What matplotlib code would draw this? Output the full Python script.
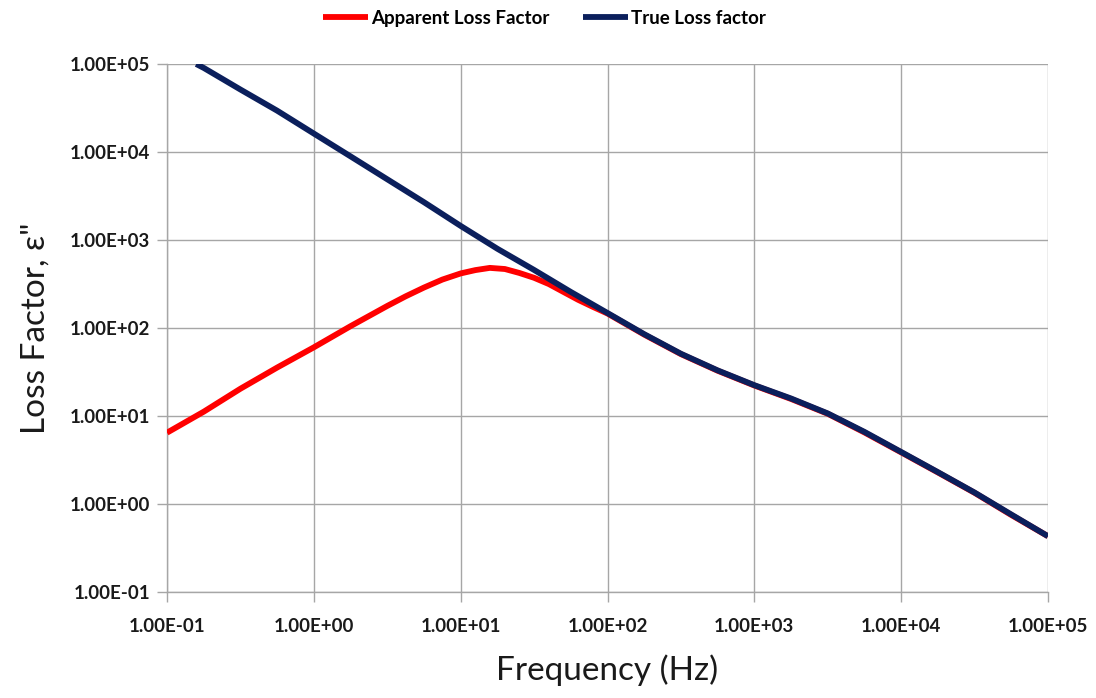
import matplotlib.pyplot as plt
from matplotlib.ticker import FixedLocator, FuncFormatter, NullLocator

# Values (log-log)
freq_true = [0.158, 0.178, 0.316, 0.562, 1, 1.78, 3.16, 5.62, 10, 17.8, 31.6, 56.2,
             100, 178, 316, 562, 1000, 1780, 3160, 5620, 10000, 17800, 31600, 56200, 100000]
loss_true = [1.0e5, 90200, 51300, 29500, 16200, 8910, 4900, 2690, 1445, 794, 457, 257,
             148, 85, 51, 33, 22.4, 15.8, 10.7, 6.6, 3.9, 2.3, 1.35, 0.76, 0.43]

freq_app = [0.1, 0.178, 0.316, 0.562, 1, 1.78, 3.16, 4.22, 5.62, 7.5, 10, 12.6, 15.8, 20.0,
            25.1, 31.6, 39.8, 50.1, 63.1, 79.4, 100, 178, 316, 562, 1000, 1780, 3160,
            5620, 10000, 17800, 31600, 56200, 100000]
loss_app = [6.46, 11.2, 20.4, 35.5, 60.3, 105, 178, 229, 288, 355, 417, 455, 482, 468,
            422, 372, 316, 257, 209, 174, 146, 84, 50.5, 32.7, 22.2, 15.6, 10.6,
            6.5, 3.86, 2.28, 1.34, 0.75, 0.43]

x_ticks = [1e-1, 1e0, 1e1, 1e2, 1e3, 1e4, 1e5]
y_ticks = [1e-1, 1e0, 1e1, 1e2, 1e3, 1e4, 1e5]

plt.rcParams['font.family'] = ['Lato', 'DejaVu Sans']

fig = plt.figure(figsize=(10.96, 6.98), dpi=100)
ax = fig.add_axes([0.1524, 0.1519, 0.9562 - 0.1524, 0.9083 - 0.1519])

ax.plot(freq_app, loss_app, color='#ff0000', lw=4.2, label='Apparent Loss Factor',
        solid_capstyle='butt', solid_joinstyle='round', zorder=3)
ax.plot(freq_true, loss_true, color='#0b1f5c', lw=4.2, label='True Loss factor',
        solid_capstyle='butt', solid_joinstyle='round', zorder=4)

ax.set_xscale('log')
ax.set_yscale('log')
ax.set_xlim(1e-1, 1e5)
ax.set_ylim(1e-1, 1e5)

fmt = FuncFormatter(lambda v, p: '%.2E' % v)
ax.xaxis.set_major_locator(FixedLocator(x_ticks))
ax.yaxis.set_major_locator(FixedLocator(y_ticks))
ax.xaxis.set_minor_locator(NullLocator())
ax.yaxis.set_minor_locator(NullLocator())
ax.xaxis.set_major_formatter(fmt)
ax.yaxis.set_major_formatter(fmt)

ax.grid(True, color='#a6a6a6', lw=1.0)
for s in ['top', 'right']:
    ax.spines[s].set_visible(False)
for s in ['left', 'bottom']:
    ax.spines[s].set_color('#a6a6a6')
    ax.spines[s].set_linewidth(1.0)
ax.tick_params(axis='both', direction='out', length=7, width=1.0, color='#a6a6a6',
               labelsize=13.5, labelcolor='#1a1a1a')
ax.tick_params(axis='x', pad=12)
ax.tick_params(axis='y', pad=5)
for lab in ax.get_xticklabels() + ax.get_yticklabels():
    lab.set_fontweight('bold')

ax.set_xlabel('Frequency (Hz)', fontsize=24, color='#1a1a1a', labelpad=14)
ax.set_ylabel('Loss Factor, ε"', fontsize=24, color='#1a1a1a', labelpad=14)

fig.legend(loc='upper center', bbox_to_anchor=(0.497, 1.01), ncol=2, frameon=False,
           prop={'weight': 'bold', 'size': 13.5}, handlelength=2.4, handletextpad=0.15,
           columnspacing=1.8)

plt.savefig('out.png', dpi=100)
